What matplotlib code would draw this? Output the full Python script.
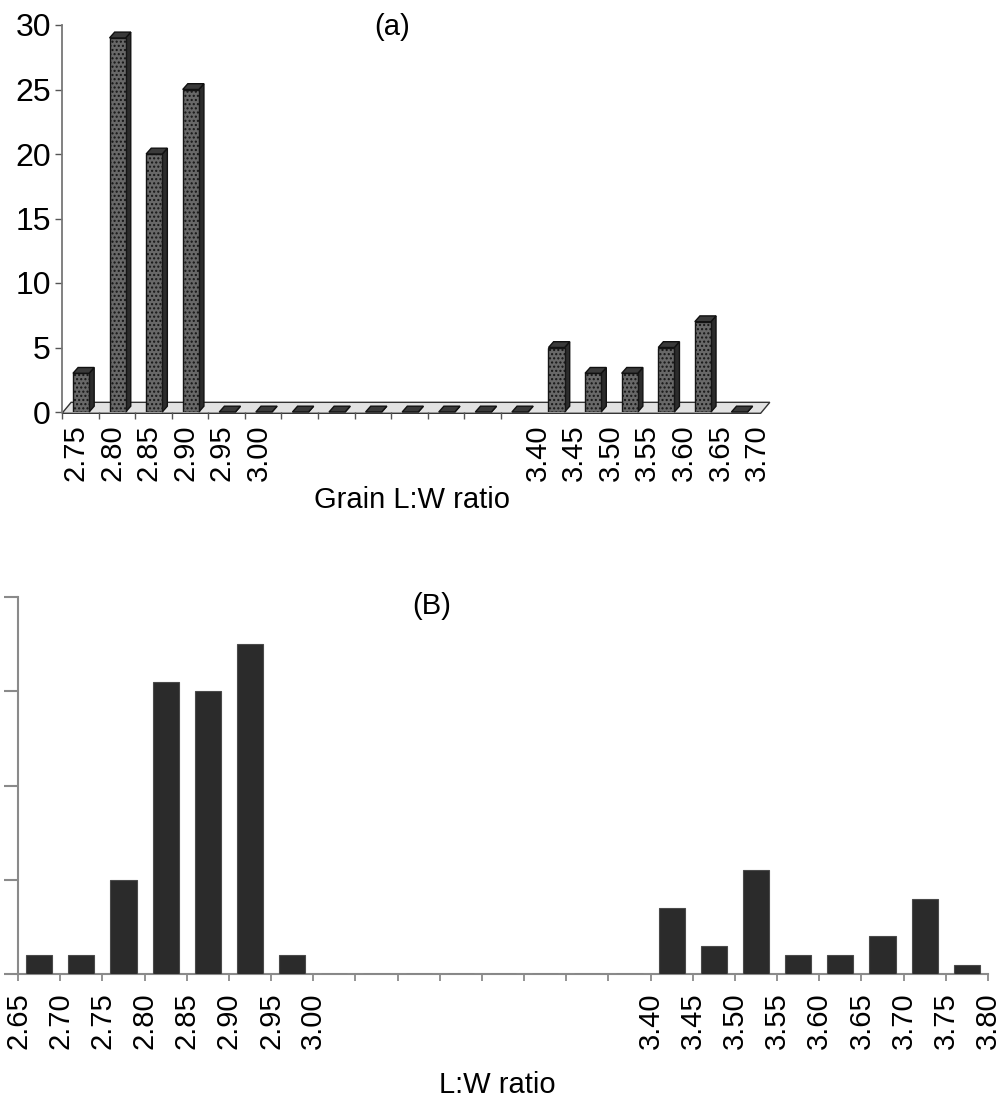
import matplotlib
matplotlib.use('Agg')
import matplotlib.pyplot as plt
from matplotlib.patches import Polygon
import numpy as np

plt.rcParams['font.family'] = ['Liberation Sans', 'DejaVu Sans']

# ---------------- data: panel (a) ----------------
bins_a = ['2.75', '2.80', '2.85', '2.90', '2.95', '3.00', '3.05', '3.10', '3.15',
          '3.20', '3.25', '3.30', '3.35', '3.40', '3.45', '3.50', '3.55', '3.60', '3.65']
counts_a = [3, 29, 20, 25, 0, 0, 0, 0, 0, 0, 0, 0, 0, 5, 3, 3, 5, 7, 0]
labels_a = ['2.75', '2.80', '2.85', '2.90', '2.95', '3.00',
            '3.40', '3.45', '3.50', '3.55', '3.60', '3.65', '3.70']
yticks_a = [0, 5, 10, 15, 20, 25, 30]

# ---------------- data: panel (B) ----------------
bins_b = ['2.65', '2.70', '2.75', '2.80', '2.85', '2.90', '2.95', '3.00',
          '3.05', '3.10', '3.15', '3.20', '3.25', '3.30', '3.35',
          '3.40', '3.45', '3.50', '3.55', '3.60', '3.65', '3.70', '3.75']
counts_b = [2, 2, 10, 31, 30, 35, 2, 0, 0, 0, 0, 0, 0, 0, 0,
            7, 3, 11, 2, 2, 4, 8, 1]
ticks_b = ['2.65', '2.70', '2.75', '2.80', '2.85', '2.90', '2.95', '3.00',
           '3.05', '3.10', '3.15', '3.20', '3.25', '3.30', '3.35',
           '3.40', '3.45', '3.50', '3.55', '3.60', '3.65', '3.70', '3.75', '3.80']
labels_b = ['2.65', '2.70', '2.75', '2.80', '2.85', '2.90', '2.95', '3.00',
            '3.40', '3.45', '3.50', '3.55', '3.60', '3.65', '3.70', '3.75', '3.80']
yticks_b = [0, 10, 20, 30, 40]

W, H = 1004, 1103
fig = plt.figure(figsize=(W / 100, H / 100), dpi=100)
FS = 21      # titles
FSX = 21     # rotated category labels
FSY = 23     # y tick labels of panel (a)

# ================= panel (a): pseudo-3D columns =================
axa = fig.add_axes([62 / W, 1 - 412 / H, 695 / W, 387 / H])
n = len(bins_a)
idx = np.arange(n)
axa.set_xlim(0, n)
axa.set_ylim(0, 30)

bw, xoff, dx, dy = 0.44, 0.30, 0.14, 0.45

floor = Polygon([(0, -0.1), (n + 0.1, -0.1), (n + 0.35, 0.75), (0.25, 0.75)],
                closed=True, facecolor='#e2e2e2', edgecolor='#333333', lw=1.0,
                zorder=1, clip_on=False)
axa.add_patch(floor)

xs = idx + xoff
axa.bar(xs, counts_a, width=bw, align='edge', color='#686868',
        edgecolor='#151515', lw=1.0, zorder=3, hatch='....')
for x, v in zip(xs, counts_a):
    side = Polygon([(x + bw, 0), (x + bw + dx, dy), (x + bw + dx, v + dy), (x + bw, v)],
                   closed=True, facecolor='#2c2c2c', edgecolor='#111111', lw=1.0,
                   zorder=2, clip_on=False)
    top = Polygon([(x, v), (x + bw, v), (x + bw + dx, v + dy), (x + dx, v + dy)],
                  closed=True, facecolor='#3a3a3a', edgecolor='#111111', lw=1.0,
                  zorder=4, clip_on=False)
    axa.add_patch(side)
    axa.add_patch(top)

for s in ['top', 'right', 'bottom']:
    axa.spines[s].set_visible(False)
axa.spines['left'].set_color('#777777')
axa.spines['left'].set_linewidth(1.3)
axa.set_yticks(yticks_a)
axa.set_yticklabels([str(t) for t in yticks_a])
axa.tick_params(axis='y', direction='out', length=5, width=1, color='#555555',
                labelsize=FSY, pad=3)

k_a = np.array([round((float(l) - float(bins_a[0])) / 0.05) for l in labels_a])
shift_a = np.where(k_a < 6, 0.37, 0.0)
axa.set_xticks(k_a + shift_a)
axa.set_xticklabels(labels_a, rotation=90)
axa.set_xticks(np.arange(n + 1), minor=True)
axa.tick_params(axis='x', which='major', length=0, labelsize=FSX, pad=9)
axa.tick_params(axis='x', which='minor', direction='out', length=5, width=1,
                color='#555555')

fig.text(392 / W, 1 - 27 / H, '(a)', ha='center', va='center', fontsize=FS)
fig.text(412 / W, 1 - 500 / H, 'Grain L:W ratio', ha='center', va='center', fontsize=FS)

# ================= panel (B): flat columns =================
axb = fig.add_axes([18 / W, 1 - 974 / H, 970 / W, 377 / H])
edges_b = np.array([float(b) for b in bins_b])
step = 0.05
axb.bar(edges_b + step / 2, counts_b, width=step * 0.62, color='#2b2b2b',
        edgecolor='#4a4a4a', lw=0.8, zorder=3)
tick_pos_b = np.array([float(t) for t in ticks_b])
axb.set_xlim(tick_pos_b[0], tick_pos_b[-1])
axb.set_ylim(yticks_b[0], yticks_b[-1])
for s in ['top', 'right']:
    axb.spines[s].set_visible(False)
for s in ['left', 'bottom']:
    axb.spines[s].set_color('#8a8a8a')
    axb.spines[s].set_linewidth(1.5)
axb.set_yticks(yticks_b)
axb.set_yticklabels([])
axb.tick_params(axis='y', direction='out', length=10, width=1.5, color='#8a8a8a')
axb.set_xticks(tick_pos_b)
axb.set_xticklabels([t if t in labels_b else '' for t in ticks_b], rotation=90)
axb.tick_params(axis='x', direction='out', length=5, width=1.3, color='#8a8a8a',
                labelsize=FSX, pad=8)

fig.text(432 / W, 1 - 606 / H, '(B)', ha='center', va='center', fontsize=FS)
fig.text(497 / W, 1 - 1085 / H, 'L:W ratio', ha='center', va='center', fontsize=FS)

fig.savefig('out.png', dpi=100)
